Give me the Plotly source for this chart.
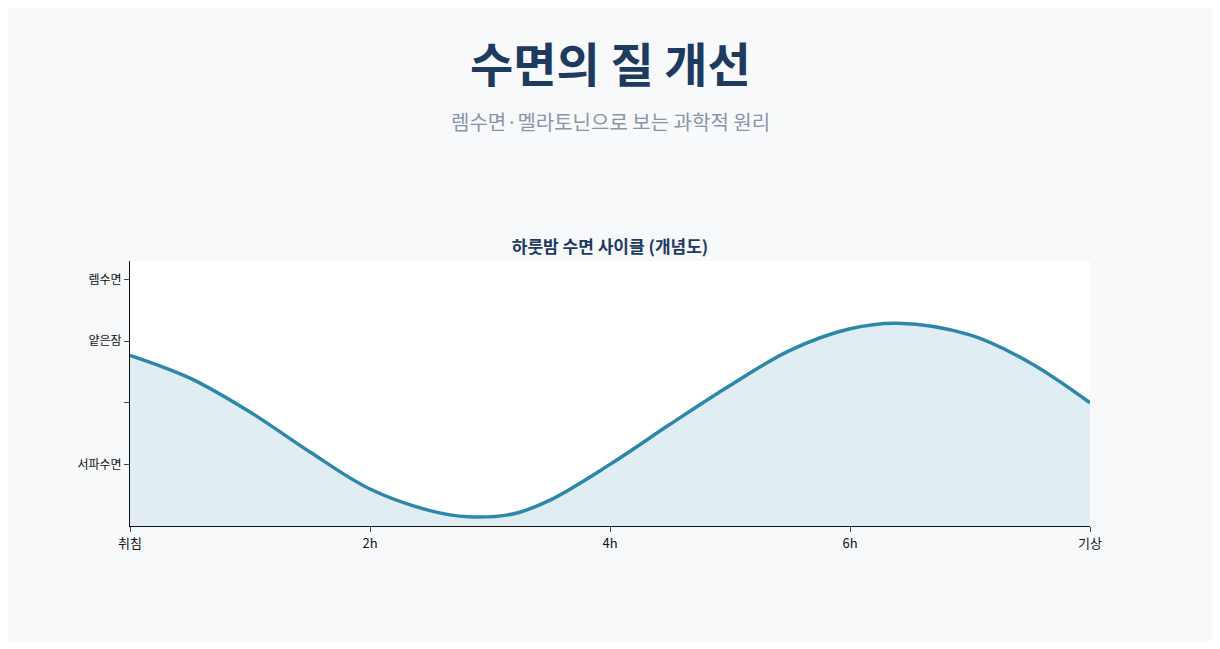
import plotly.graph_objects as go

hours = [0, 0.5, 1, 1.5, 2, 2.5, 2.82, 3.2, 3.5, 4, 4.5, 5, 5.5, 6, 6.4, 7, 7.5, 8]
depth = [2.77, 2.4, 1.85, 1.2, 0.6, 0.25, 0.15, 0.2, 0.42, 1.0, 1.65, 2.28, 2.85, 3.2, 3.29, 3.1, 2.65, 2.0]

x_ticks = [0, 2, 4, 6, 8]
x_labels = ["취침", "2h", "4h", "6h", "기상"]
y_ticks = [1, 2, 3, 4]
y_labels = ["서파수면", "", "얕은잠", "렘수면"]

font = "Noto Sans CJK KR"
W, H = 1204, 633
T, B = 253, 115

fig = go.Figure()
fig.add_trace(go.Scatter(
    x=hours, y=depth, mode="lines", fill="tozeroy",
    line=dict(color="#2e86ab", width=3.5, shape="spline", smoothing=1.0),
    fillcolor="rgba(46,134,171,0.15)", hoverinfo="skip", showlegend=False,
))

plot_h = H - T - B
fig.update_layout(
    width=W, height=H,
    paper_bgcolor="#f7f9fb", plot_bgcolor="#ffffff",
    font=dict(family=font, color="#111111", size=13),
    margin=dict(l=122, r=122, t=T, b=B),
    title=dict(text="<b>하룻밤 수면 사이클 (개념도)</b>", x=0.5, xanchor="center",
               y=1 - 239 / H, yanchor="middle",
               font=dict(size=17, color="#1e3a5f", family=font)),
    xaxis=dict(range=[0, 8], tickvals=x_ticks, ticktext=x_labels, showgrid=False,
               zeroline=False, showline=True, linecolor="#111", ticks="outside",
               ticklen=5, tickfont=dict(size=13)),
    yaxis=dict(range=[0, 4.3], tickvals=y_ticks, ticktext=y_labels, showgrid=False,
               zeroline=False, showline=True, linecolor="#111", ticks="outside",
               ticklen=5, tickfont=dict(size=12)),
    annotations=[
        dict(text="<b>수면의 질 개선</b>", x=0.5, y=1 + (T - 54) / plot_h,
             xref="paper", yref="paper", yanchor="middle", showarrow=False,
             font=dict(size=47, color="#1e3a5f", family=font)),
        dict(text="렘수면·멜라토닌으로 보는 과학적 원리", x=0.5, y=1 + (T - 114) / plot_h,
             xref="paper", yref="paper", yanchor="middle", showarrow=False,
             font=dict(size=20, color="#8a94a6", family=font)),
    ],
)
fig.write_html("out.html")
